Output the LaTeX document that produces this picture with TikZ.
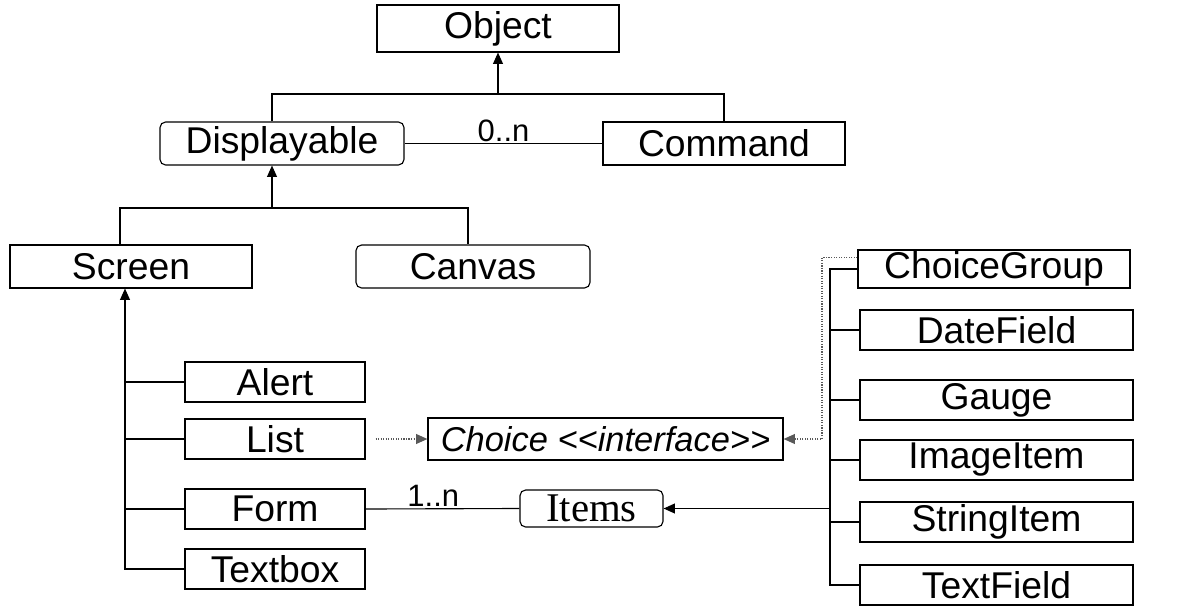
\documentclass[tikz,border=0pt]{standalone}
\usepackage{fontspec}
\setmainfont{Liberation Sans}
\newfontfamily\itemsfont{Liberation Serif}
\usetikzlibrary{arrows.meta}
\tikzset{
  cls/.style={draw, inner sep=0pt, minimum height=1.075cm, font=\fontsize{26.5}{28}\selectfont},
  rnd/.style={cls, rounded corners=4pt},
  sub/.style={cls, minimum width=4.5cm, minimum height=1cm},
  itm/.style={cls, minimum width=6.825cm, minimum height=1cm},
  tri/.style={-{Triangle[length=8pt,width=7pt]}},
  dep/.style={densely dotted, gray!70!black},
  mult/.style={above, inner sep=1pt, font=\fontsize{22}{24}\selectfont}
}
\begin{document}
\begin{tikzpicture}[x=0.025cm, y=-0.025cm, line width=0.8pt]
                        \useasboundingbox (0,0) rectangle (1177,605);
                        \node[cls, minimum width=6.05cm, minimum height=1.175cm] (object) at (498,28.5) {Object};
                        \node[rnd, minimum width=6.1cm] (displayable) at (282,143.5) {Displayable};
                        \node[cls, minimum width=6.05cm] (command) at (724,143.5) {Command};
                        \node[cls, minimum width=6.05cm] (screen) at (131,266.5) {Screen};
                        \node[rnd, minimum width=5.85cm] (canvas) at (473,266.5) {Canvas};
                        \node[sub] (alert) at (275,382) {Alert};
                        \node[sub] (list) at (275,439) {List};
                        \node[sub] (form) at (275,509) {Form};
                        \node[sub] (textbox) at (275,569) {Textbox};
                        \node[cls, minimum width=8.875cm, minimum height=1.05cm, font=\fontsize{24.5}{26}\selectfont] (choice) at (605.5,439) {\itshape Choice <{}<interface>{}>};
                        \node[rnd, minimum width=3.575cm, minimum height=0.925cm, font=\itemsfont\fontsize{29}{31}\selectfont] (items) at (591.5,508.5) {Items};
                        \node[itm, minimum width=6.8cm, minimum height=0.95cm] (choicegroup) at (994,269) {ChoiceGroup};
                        \node[itm] (datefield) at (996.5,330) {DateField};
                        \node[itm] (gauge) at (996.5,400) {Gauge};
                        \node[itm] (imageitem) at (996.5,460) {ImageItem};
                        \node[itm] (stringitem) at (996.5,522) {StringItem};
                        \node[itm] (textfield) at (996.5,585) {TextField};
                        \coordinate (j1) at (498,94);
                        \coordinate (j2) at (272,208);
                        \coordinate (ltrunk) at (125,0);
                        \coordinate (rtrunk) at (830,0);
                        \coordinate (dk) at (822,0);
                        \draw[tri] (j1) -- (object.south);
                        \draw ([xshift=-0.25cm]displayable.north) |- (j1) -| (command.north);
                        \draw (displayable.east) -- node[mult]{0..n} (command.west);
                        \draw[tri] (j2) -- (j2 |- displayable.south);
                        \draw ([xshift=-0.275cm]screen.north) |- (j2) -| ([xshift=-0.125cm]canvas.north);
                        \draw[tri] (textbox.west) -| (ltrunk |- screen.south);
                        \foreach \n in {alert, list, form}
                            \draw (\n.west) -- (ltrunk |- \n.west);
                        \draw[dep, tri] ([xshift=0.25cm]list.east) -- (choice.west);
                        \draw (form.east) -- node[mult, pos=0.44]{1..n} (items.west);
                        \draw (choicegroup.west) -| (rtrunk |- textfield.west) -- (textfield.west);
                        \foreach \n in {datefield, gauge, imageitem, stringitem}
                            \draw (\n.west) -- (rtrunk |- \n.west);
                        \draw[tri] (rtrunk |- items.east) -- (items.east);
                        \draw[dep, tri] ([yshift=0.28cm]choicegroup.west) -| (dk |- choice.east) -- (choice.east);
                    \end{tikzpicture}
\end{document}
